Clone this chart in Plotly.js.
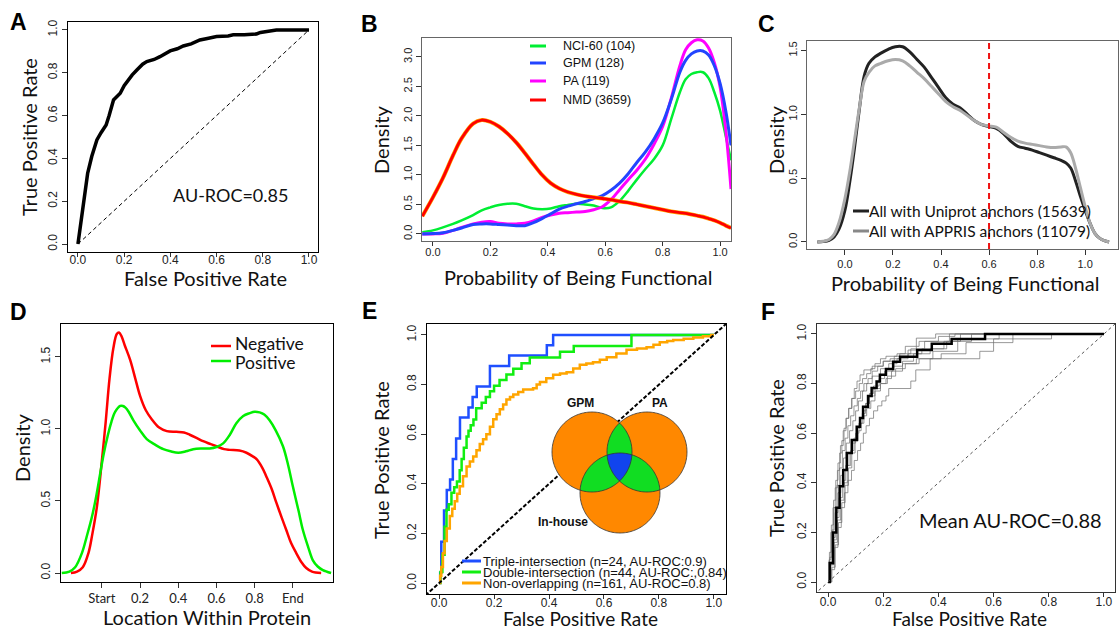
<!DOCTYPE html>
<html><head><meta charset="utf-8">
<script src="https://cdn.plot.ly/plotly-3.0.1.min.js"></script>
<style>html,body{margin:0;padding:0;background:#fff}#chart{width:1119px;height:629px}</style>
</head><body><div id="chart"></div>
<script>
// ===================== DATA =====================
// Panel A : ROC curve
const rocA_fpr = [0,0.01,0.022,0.032,0.042,0.06,0.082,0.1,0.122,0.135,0.154,0.17,0.183,0.2,0.212,0.235,0.255,0.28,0.298,0.33,0.355,0.38,0.399,0.43,0.456,0.49,0.528,0.56,0.6,0.65,0.672,0.72,0.773,0.79,0.816,0.84,0.859,0.9,1.0];
const rocA_tpr = [0,0.08,0.175,0.26,0.33,0.41,0.486,0.52,0.556,0.6,0.673,0.69,0.704,0.74,0.759,0.79,0.813,0.84,0.852,0.862,0.875,0.89,0.902,0.912,0.925,0.935,0.953,0.96,0.969,0.972,0.977,0.978,0.981,0.988,0.992,0.996,1,1,1];
const diagUnit = [0, 1];
const labelA = "AU-ROC=0.85";

// Panel B : densities
const probB = [-0.037,0,0.035,0.07,0.1,0.14,0.17,0.2,0.23,0.26,0.29,0.32,0.35,0.38,0.41,0.44,0.47,0.5,0.53,0.56,0.59,0.62,0.65,0.68,0.71,0.74,0.77,0.8,0.83,0.86,0.88,0.9,0.92,0.94,0.96,0.98,1.0,1.02,1.038];
const nci60 = [0.03,0.06,0.11,0.17,0.23,0.32,0.40,0.45,0.49,0.51,0.51,0.47,0.43,0.42,0.43,0.47,0.49,0.51,0.50,0.48,0.44,0.45,0.56,0.73,0.92,1.10,1.27,1.50,1.95,2.40,2.62,2.71,2.74,2.74,2.64,2.40,2.09,1.65,1.25];
const gpm   = [0.0,0.005,0.02,0.06,0.10,0.16,0.17,0.17,0.16,0.15,0.14,0.14,0.19,0.26,0.34,0.42,0.47,0.51,0.55,0.60,0.65,0.74,0.86,1.02,1.21,1.39,1.61,1.88,2.28,2.74,2.94,3.05,3.10,3.10,3.03,2.85,2.55,2.08,1.50];
const pa    = [0.0,0.0,0.01,0.06,0.11,0.17,0.20,0.21,0.18,0.17,0.17,0.18,0.22,0.28,0.32,0.35,0.36,0.37,0.38,0.41,0.46,0.58,0.75,0.92,1.08,1.27,1.52,1.82,2.30,2.85,3.12,3.24,3.29,3.27,3.15,2.90,2.49,1.75,0.76];
const nmd   = [0.30,0.62,0.95,1.33,1.62,1.87,1.93,1.90,1.82,1.70,1.55,1.37,1.18,1.00,0.86,0.77,0.71,0.67,0.64,0.62,0.60,0.58,0.55,0.53,0.50,0.47,0.44,0.41,0.38,0.36,0.35,0.33,0.31,0.29,0.26,0.23,0.19,0.14,0.10];
const legendB = ["NCI-60 (104)", "GPM (128)", "PA (119)", "NMD (3659)"];

// Panel C : densities
const probC = [-0.115,-0.09,-0.066,-0.045,-0.025,0,0.02,0.04,0.06,0.08,0.1,0.125,0.15,0.18,0.21,0.24,0.27,0.3,0.33,0.36,0.39,0.42,0.45,0.48,0.51,0.54,0.57,0.6,0.63,0.66,0.69,0.72,0.75,0.78,0.81,0.84,0.87,0.9,0.92,0.94,0.96,0.98,1.0,1.02,1.04,1.06,1.08,1.1];
const uniprot = [0,0.003,0.013,0.04,0.10,0.25,0.47,0.74,1.04,1.30,1.40,1.45,1.48,1.51,1.53,1.53,1.49,1.43,1.37,1.29,1.21,1.13,1.08,1.05,1.00,0.95,0.92,0.905,0.89,0.85,0.79,0.75,0.735,0.72,0.70,0.68,0.66,0.64,0.62,0.58,0.48,0.36,0.25,0.15,0.07,0.03,0.01,0];
const appris  = [0,0.005,0.02,0.06,0.15,0.34,0.55,0.80,1.05,1.26,1.33,1.38,1.40,1.42,1.43,1.42,1.38,1.33,1.28,1.22,1.16,1.10,1.06,1.03,0.99,0.95,0.92,0.91,0.90,0.86,0.82,0.79,0.775,0.765,0.755,0.745,0.74,0.745,0.745,0.70,0.58,0.43,0.28,0.15,0.07,0.03,0.01,0];
const cutoffC = 0.6;
const legendC = ["All with Uniprot anchors (15639)", "All with APPRIS anchors (11079)"];

// Panel D : location densities
const negLoc = [-0.162,-0.13,-0.1,-0.07,-0.05,-0.026,0,0.02,0.04,0.06,0.078,0.09,0.104,0.12,0.148,0.175,0.2,0.23,0.26,0.3,0.34,0.39,0.43,0.46,0.5,0.53,0.57,0.6,0.64,0.67,0.72,0.757,0.79,0.81,0.84,0.861,0.89,0.913,0.94,0.965,0.99,1.017,1.045,1.07,1.1,1.148];
const negDen = [0,0.01,0.04,0.14,0.27,0.46,0.78,1.05,1.35,1.56,1.66,1.67,1.64,1.58,1.48,1.35,1.23,1.13,1.07,1.01,0.985,0.98,0.975,0.96,0.935,0.915,0.895,0.88,0.86,0.855,0.85,0.835,0.81,0.79,0.73,0.67,0.58,0.49,0.39,0.30,0.21,0.14,0.075,0.035,0.01,0];
const posLoc = [-0.21,-0.17,-0.14,-0.104,-0.08,-0.052,-0.03,-0.009,0.01,0.03,0.05,0.07,0.096,0.11,0.122,0.14,0.165,0.2,0.235,0.28,0.322,0.36,0.4,0.44,0.478,0.52,0.565,0.6,0.635,0.67,0.704,0.74,0.774,0.8,0.826,0.85,0.878,0.91,0.948,0.975,1.0,1.03,1.052,1.08,1.104,1.13,1.157,1.2];
const posDen = [0,0.01,0.04,0.14,0.25,0.39,0.53,0.69,0.83,0.95,1.05,1.12,1.16,1.16,1.15,1.12,1.06,0.99,0.93,0.89,0.86,0.845,0.835,0.845,0.86,0.865,0.865,0.875,0.9,0.96,1.04,1.09,1.11,1.12,1.115,1.1,1.06,0.99,0.88,0.75,0.6,0.43,0.3,0.18,0.09,0.045,0.02,0];
const locTicks = [0, 0.2, 0.4, 0.6, 0.8, 1.0];
const locTickText = ["Start", "0.2", "0.4", "0.6", "0.8", "End"];
const legendD = ["Negative", "Positive"];

// Panel E : ROC by overlap
const tripleFpr = [0,0.004,0.008,0.018,0.028,0.04,0.05,0.062,0.076,0.107,0.122,0.137,0.185,0.255,0.392,0.415,1.0];
const tripleTpr = [0,0.042,0.167,0.292,0.375,0.417,0.5,0.583,0.667,0.708,0.75,0.792,0.875,0.917,0.958,1.0,1.0];
const doubleFpr = [0,0.005,0.012,0.02,0.027,0.035,0.045,0.055,0.065,0.075,0.082,0.09,0.1,0.107,0.115,0.125,0.135,0.155,0.17,0.185,0.2,0.22,0.245,0.27,0.3,0.33,0.37,0.44,0.49,0.7,1.0];
const doubleTpr = [0,0.045,0.114,0.227,0.295,0.318,0.364,0.386,0.409,0.455,0.5,0.545,0.591,0.614,0.636,0.659,0.705,0.727,0.75,0.773,0.795,0.818,0.841,0.864,0.886,0.909,0.909,0.932,0.955,1.0,1.0];
const nonFpr = [0,0.004,0.008,0.014,0.02,0.028,0.039,0.048,0.057,0.066,0.075,0.087,0.1,0.112,0.124,0.136,0.148,0.16,0.172,0.185,0.197,0.209,0.221,0.233,0.245,0.258,0.27,0.288,0.306,0.324,0.342,0.355,0.367,0.39,0.415,0.44,0.464,0.488,0.512,0.536,0.56,0.585,0.61,0.645,0.682,0.72,0.755,0.78,0.803,0.83,0.852,0.89,0.925,0.96,0.99,1.0];
const nonTpr = [0,0.03,0.065,0.12,0.17,0.22,0.27,0.3,0.33,0.36,0.39,0.43,0.47,0.49,0.51,0.535,0.56,0.58,0.6,0.63,0.66,0.68,0.7,0.72,0.74,0.75,0.76,0.77,0.78,0.78,0.785,0.8,0.81,0.825,0.84,0.845,0.85,0.865,0.88,0.885,0.89,0.9,0.91,0.925,0.94,0.945,0.95,0.96,0.97,0.975,0.98,0.985,0.99,0.995,1.0,1.0];
const diagFull = [-0.05, 1.05];
const legendE = ["Triple-intersection (n=24, AU-ROC:0.9)", "Double-intersection (n=44, AU-ROC:,0.84)", "Non-overlapping (n=161, AU-ROC=0.8)"];
const vennLabels = ["GPM", "PA", "In-house"];

// Panel F : cross-validation ROC curves
const meanFpr = [0,0.006,0.018,0.03,0.042,0.055,0.068,0.086,0.104,0.116,0.127,0.145,0.158,0.176,0.188,0.21,0.236,0.261,0.323,0.376,0.448,0.569,1.0];
const meanTpr = [0,0.077,0.2,0.3,0.386,0.452,0.52,0.573,0.626,0.661,0.707,0.75,0.782,0.808,0.835,0.859,0.888,0.908,0.935,0.96,0.98,1.0,1.0];
const foldFpr = [
  [0,0.004,0.01,0.018,0.026,0.034,0.042,0.05,0.058,0.066,0.075,0.085,0.095,0.105,0.116,0.13,0.16,0.2,0.24,0.29,0.32,0.39,1.0],
  [0,0.012,0.024,0.036,0.048,0.06,0.072,0.085,0.095,0.107,0.118,0.128,0.138,0.15,0.165,0.18,0.195,0.21,0.22,0.3,0.318,0.37,0.55,0.6,0.81,1.0],
  [0,0.008,0.016,0.026,0.036,0.046,0.056,0.066,0.078,0.09,0.1,0.11,0.125,0.14,0.16,0.19,0.22,0.25,0.29,0.34,0.42,0.48,1.0],
  [0,0.01,0.02,0.03,0.04,0.052,0.064,0.076,0.088,0.1,0.112,0.124,0.136,0.15,0.17,0.19,0.21,0.23,0.27,0.33,0.41,0.5,0.67,1.0],
  [0,0.006,0.014,0.022,0.032,0.042,0.052,0.062,0.072,0.082,0.094,0.106,0.118,0.13,0.145,0.16,0.18,0.2,0.225,0.26,0.3,0.35,0.44,1.0],
  [0,0.014,0.026,0.038,0.05,0.062,0.074,0.086,0.098,0.11,0.12,0.13,0.14,0.155,0.17,0.19,0.215,0.245,0.28,0.32,0.38,0.47,0.62,1.0],
  [0,0.005,0.012,0.02,0.028,0.036,0.045,0.055,0.065,0.075,0.087,0.1,0.113,0.125,0.14,0.155,0.17,0.19,0.21,0.25,0.28,0.33,0.4,0.46,1.0],
  [0,0.01,0.022,0.034,0.046,0.058,0.07,0.082,0.094,0.106,0.116,0.126,0.138,0.15,0.165,0.185,0.205,0.235,0.27,0.31,0.37,0.43,0.52,1.0]
];
const foldTpr = [
  [0,0.09,0.2,0.3,0.38,0.45,0.52,0.57,0.62,0.66,0.7,0.74,0.78,0.81,0.835,0.855,0.87,0.89,0.91,0.935,0.983,1.0,1.0],
  [0,0.05,0.14,0.22,0.3,0.36,0.41,0.45,0.49,0.53,0.56,0.6,0.63,0.66,0.69,0.71,0.73,0.75,0.78,0.81,0.855,0.9,0.93,0.98,1.0,1.0],
  [0,0.08,0.18,0.28,0.36,0.43,0.5,0.56,0.61,0.65,0.69,0.73,0.77,0.8,0.83,0.86,0.88,0.9,0.92,0.94,0.97,1.0,1.0],
  [0,0.07,0.17,0.26,0.34,0.41,0.47,0.52,0.56,0.6,0.64,0.68,0.72,0.75,0.78,0.8,0.82,0.85,0.88,0.9,0.92,0.965,1.0,1.0],
  [0,0.1,0.21,0.3,0.39,0.46,0.53,0.58,0.63,0.67,0.71,0.74,0.77,0.8,0.82,0.85,0.87,0.89,0.9,0.92,0.94,0.97,1.0,1.0],
  [0,0.06,0.15,0.24,0.32,0.39,0.46,0.52,0.57,0.61,0.64,0.67,0.7,0.73,0.77,0.8,0.83,0.86,0.88,0.9,0.93,0.98,1.0,1.0],
  [0,0.12,0.23,0.33,0.41,0.48,0.55,0.61,0.66,0.7,0.74,0.77,0.8,0.82,0.84,0.86,0.88,0.9,0.91,0.92,0.95,0.97,0.99,1.0,1.0],
  [0,0.07,0.16,0.25,0.33,0.4,0.47,0.53,0.58,0.62,0.66,0.69,0.72,0.76,0.79,0.82,0.85,0.87,0.89,0.92,0.94,0.97,1.0,1.0]
];
const labelF = "Mean AU-ROC=0.88";

// ===================== LAYOUT HELPERS =====================
const W = 1119, H = 629;
const TITLE_FONT = 'Lato, "Open Sans", sans-serif';
const TICK_FONT = '"Liberation Sans", Arial, sans-serif';
const fx = p => p / W, fy = p => 1 - p / H;

function axis(l, r, range, opts) {
  return Object.assign({
    domain: [fx(l), fx(r)], range: range, showline: true, mirror: true, linecolor: '#000', linewidth: 1,
    ticks: 'outside', ticklen: 5, tickcolor: '#333', tickwidth: 1, showgrid: false, zeroline: false,
    fixedrange: true, tickformat: '.1f', tickfont: {family: TICK_FONT, size: 12, color: '#222'}
  }, opts || {});
}
function yaxis(t, b, range, opts) {
  return Object.assign({
    domain: [fy(b), fy(t)], range: range, showline: true, mirror: true, linecolor: '#000', linewidth: 1,
    ticks: 'outside', ticklen: 5, tickcolor: '#333', tickwidth: 1, showgrid: false, zeroline: false,
    fixedrange: true, tickformat: '.1f', tickangle: -90, tickfont: {family: TICK_FONT, size: 12, color: '#222'}
  }, opts || {});
}

const annotations = [];
function txt(text, x, y, size, opts) {
  annotations.push(Object.assign({
    text: text, x: fx(x), y: fy(y), xref: 'paper', yref: 'paper', showarrow: false,
    xanchor: 'center', yanchor: 'middle', font: {family: TITLE_FONT, size: size, color: '#111'}
  }, opts || {}));
}
const shapes = [];
function keyLine(x0, x1, y, color, width) {
  shapes.push({type: 'line', xref: 'paper', yref: 'paper', x0: fx(x0), x1: fx(x1), y0: fy(y), y1: fy(y),
    line: {color: color, width: width}});
}

// ===================== TRACES =====================
const traces = [];
const L = (x, y, xa, ya, line, extra) => Object.assign({x, y, xaxis: xa, yaxis: ya, mode: 'lines', line, showlegend: false, hoverinfo: 'skip'}, extra || {});

// A
traces.push(L(diagUnit, diagUnit, 'x', 'y', {color: '#000', width: 1, dash: '4px,3px'}));
traces.push(L(rocA_fpr, rocA_tpr, 'x', 'y', {color: '#000', width: 3.5}));

// B
const colB = ['#00EE33', '#2244FF', '#FF00FF', '#FF0000'];
traces.push(L(probB, nci60, 'x2', 'y2', {color: colB[0], width: 2.5, shape: 'spline'}));
traces.push(L(probB, pa, 'x2', 'y2', {color: colB[2], width: 3, shape: 'spline'}));
traces.push(L(probB, gpm, 'x2', 'y2', {color: colB[1], width: 3, shape: 'spline'}));
traces.push(L(probB, nmd, 'x2', 'y2', {color: '#FFA500', width: 4, shape: 'spline'}));
traces.push(L(probB, nmd, 'x2', 'y2', {color: colB[3], width: 2.8, shape: 'spline'}));

// C
traces.push(L(probC, uniprot, 'x3', 'y3', {color: '#222', width: 3, shape: 'spline'}));
traces.push(L(probC, appris, 'x3', 'y3', {color: '#AAAAAA', width: 3, shape: 'spline'}));

// D
traces.push(L(negLoc, negDen, 'x4', 'y4', {color: '#FF0000', width: 2.5, shape: 'spline'}));
traces.push(L(posLoc, posDen, 'x4', 'y4', {color: '#00EE00', width: 2.5, shape: 'spline'}));

// E
const colE = ['#1F4FFF', '#11EE11', '#FFA500'];
traces.push(L(tripleFpr, tripleTpr, 'x5', 'y5', {color: colE[0], width: 2.5, shape: 'hv'}));
traces.push(L(doubleFpr, doubleTpr, 'x5', 'y5', {color: colE[1], width: 2.5, shape: 'hv'}));
traces.push(L(nonFpr, nonTpr, 'x5', 'y5', {color: colE[2], width: 2.5, shape: 'hv'}));
traces.push(L(diagFull, diagFull, 'x5', 'y5', {color: '#000', width: 2, dash: '4px,2px'}));

// F
for (let i = 0; i < foldFpr.length; i++) {
  traces.push(L(foldFpr[i], foldTpr[i], 'x6', 'y6', {color: 'rgba(110,110,110,0.7)', width: 1, shape: 'hv'}));
}
traces.push(L(meanFpr, meanTpr, 'x6', 'y6', {color: '#000', width: 2.5, shape: 'hv'}));
traces.push(L(diagFull, diagFull, 'x6', 'y6', {color: '#555', width: 1, dash: 'dot'}));

// ===================== VENN (panel E, pixel geometry) =====================
const vennR = 40;
const vennC = [{cx: 592, cy: 452}, {cx: 647, cy: 452}, {cx: 620, cy: 493}];
function circlePts(c, n) { const p = []; for (let k = 0; k < n; k++) { const t = 2 * Math.PI * k / n; p.push([c.cx + vennR * Math.cos(t), c.cy + vennR * Math.sin(t)]); } return p; }
function inside(p, c) { return Math.hypot(p[0] - c.cx, p[1] - c.cy) <= vennR + 1e-9; }
function region(cs) {
  let pts = [];
  cs.forEach((c, i) => circlePts(c, 720).forEach(p => { if (cs.every((o, j) => j === i || inside(p, o))) pts.push(p); }));
  const mx = pts.reduce((s, p) => s + p[0], 0) / pts.length, my = pts.reduce((s, p) => s + p[1], 0) / pts.length;
  pts.sort((a, b) => Math.atan2(a[1] - my, a[0] - mx) - Math.atan2(b[1] - my, b[0] - mx));
  return pts;
}
function toPath(pts) { return 'M' + pts.map(p => fx(p[0]).toFixed(5) + ',' + fy(p[1]).toFixed(5)).join('L') + 'Z'; }
vennC.forEach(c => shapes.push({type: 'path', xref: 'paper', yref: 'paper', path: toPath(circlePts(c, 180)), fillcolor: '#FF8800', line: {width: 0}}));
[[0, 1], [1, 2], [0, 2]].forEach(pr => shapes.push({type: 'path', xref: 'paper', yref: 'paper', path: toPath(region([vennC[pr[0]], vennC[pr[1]]])), fillcolor: '#11DD22', line: {width: 0}}));
shapes.push({type: 'path', xref: 'paper', yref: 'paper', path: toPath(region(vennC)), fillcolor: '#1144EE', line: {width: 0}});
vennC.forEach(c => shapes.push({type: 'path', xref: 'paper', yref: 'paper', path: toPath(circlePts(c, 180)), fillcolor: 'rgba(0,0,0,0)', line: {color: '#333', width: 0.8}}));
const vennFont = {family: TICK_FONT, size: 12, color: '#111', weight: 'bold'};
txt(vennLabels[0], 580, 403, 12, {font: vennFont});
txt(vennLabels[1], 660, 403, 12, {font: vennFont});
txt(vennLabels[2], 563, 522, 12, {font: vennFont});

// C cutoff line
shapes.push({type: 'line', xref: 'x3', yref: 'y3 domain', x0: cutoffC, x1: cutoffC, y0: 0, y1: 1, line: {color: '#EE1111', width: 2, dash: '6px,4px'}});

// ===================== LEGENDS (keys + text) =====================
const bY = [46, 63, 81, 100];
legendB.forEach((t, i) => { keyLine(530, 546, bY[i], colB[i], 3); txt(t, 561, bY[i], 12.5, {xanchor: 'left', font: {family: TICK_FONT, size: 12.5, color: '#111'}}); });
const cY = [211, 231], cCol = ['#222', '#888'];
legendC.forEach((t, i) => { keyLine(853, 869, cY[i], cCol[i], 3); txt(t, 867, cY[i], 15.5, {xanchor: 'left'}); });
const dY = [346, 361], dTextY = [343, 362], dCol = ['#FF0000', '#00EE00'];
legendD.forEach((t, i) => { keyLine(211, 231, dY[i], dCol[i], 2.5); txt(t, 233, dTextY[i], 17.5, {xanchor: 'left'}); });
const eY = [561, 572, 583];
legendE.forEach((t, i) => { keyLine(462, 481, eY[i], colE[i], 3); txt(t, 481, eY[i], 13, {xanchor: 'left', font: {family: TICK_FONT, size: 13, color: '#111'}}); });

// ===================== TEXT: titles, letters, labels =====================
const letterFont = {family: TICK_FONT, size: 23, color: '#000', weight: 'bold'};
[['A', 18, 22], ['B', 369, 24], ['C', 766, 24], ['D', 18, 312], ['E', 369, 311], ['F', 768, 312]].forEach(l => txt(l[0], l[1], l[2], 23, {font: letterFont}));

txt('False Positive Rate', 205, 278, 20);
txt('True Positive Rate', 29, 137, 20, {textangle: -90});
txt('Probability of Being Functional', 578, 277, 20);
txt('Density', 381, 140, 20, {textangle: -90});
txt('Probability of Being Functional', 965, 283, 20);
txt('Density', 776, 140, 20, {textangle: -90});
txt('Location Within Protein', 207, 617, 20);
txt('Density', 22, 448, 20, {textangle: -90});
txt('False Positive Rate', 580, 618, 19);
txt('True Positive Rate', 381, 460, 20, {textangle: -90});
txt('False Positive Rate', 970, 618, 19);
txt('True Positive Rate', 776, 458, 20, {textangle: -90});
txt(labelA, 230, 195, 18);
txt(labelF, 1010, 520, 20);

// ===================== LAYOUT =====================
const f11 = {family: TICK_FONT, size: 11, color: '#222'};
const layout = {
  width: W, height: H, margin: {l: 0, r: 0, t: 0, b: 0}, paper_bgcolor: '#fff', plot_bgcolor: '#fff', showlegend: false,
  xaxis:  axis(68, 318, [-0.043, 1.039], {anchor: 'y', dtick: 0.2, tick0: 0, ticklen: 4, ticklabelstandoff: -7}),
  yaxis:  yaxis(22, 252, [-0.037, 1.037], {anchor: 'x', dtick: 0.2, tick0: 0}),
  xaxis2: axis(422, 731, [-0.038, 1.038], {anchor: 'y2', dtick: 0.2, tick0: 0, linecolor: '#666', tickfont: f11, ticklen: 4, ticklabelstandoff: -3}),
  yaxis2: yaxis(38, 241, [-0.12, 3.32], {anchor: 'x2', dtick: 0.5, tick0: 0, linecolor: '#666', tickfont: f11}),
  xaxis3: axis(807, 1118, [-0.158, 1.137], {anchor: 'y3', tickvals: [0, 0.2, 0.4, 0.6, 0.8, 1.0], linecolor: '#666', tickfont: f11, ticklabelstandoff: 0}),
  yaxis3: yaxis(41, 249, [-0.055, 1.575], {anchor: 'x3', dtick: 0.5, tick0: 0, linecolor: '#666', tickfont: f11}),
  xaxis4: axis(61, 333, [-0.214, 1.21], {anchor: 'y4', tickvals: locTicks, ticktext: locTickText, tickfont: {family: TITLE_FONT, size: 13, color: '#222'}, ticklabelstandoff: -1}),
  yaxis4: yaxis(324, 582, [-0.0625, 1.729], {anchor: 'x4', dtick: 0.5, tick0: 0}),
  xaxis5: axis(427, 726, [-0.044, 1.044], {anchor: 'y5', dtick: 0.2, tick0: 0, ticklen: 4, ticklabelstandoff: -6}),
  yaxis5: yaxis(324, 594, [-0.044, 1.044], {anchor: 'x5', dtick: 0.2, tick0: 0}),
  xaxis6: axis(817, 1115, [-0.04, 1.04], {anchor: 'y6', dtick: 0.2, tick0: 0, linecolor: '#333', ticklen: 4, ticklabelstandoff: -5}),
  yaxis6: yaxis(324, 592, [-0.04, 1.04], {anchor: 'x6', dtick: 0.2, tick0: 0, linecolor: '#333'}),
  annotations: annotations,
  shapes: shapes
};

Plotly.newPlot('chart', traces, layout, {staticPlot: true, displayModeBar: false});
</script>
</body></html>
